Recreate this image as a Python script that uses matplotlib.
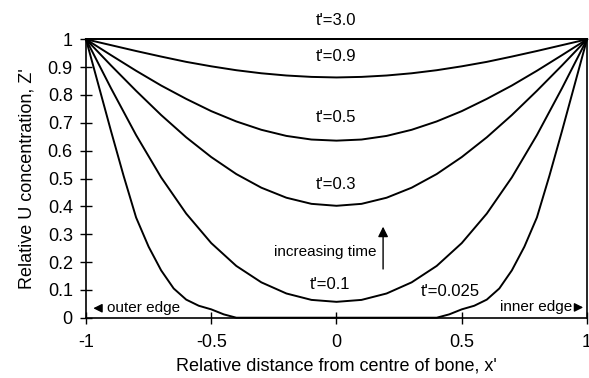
import matplotlib
matplotlib.use('Agg')
import matplotlib.pyplot as plt
import numpy as np

plt.rcParams['font.family'] = ['Liberation Sans', 'DejaVu Sans']

# sampling positions across the bone section
x_pos = np.linspace(-1.0, 1.0, 21)
x_fine = np.linspace(-1.0, 1.0, 41)

# relative concentration profiles for each dimensionless time
z_t30 = [1.0] * 21
z_t09 = [1.0, 0.979, 0.958, 0.938, 0.919, 0.903, 0.889, 0.878, 0.870, 0.865, 0.863,
         0.865, 0.870, 0.878, 0.889, 0.903, 0.919, 0.938, 0.958, 0.979, 1.0]
z_t05 = [1.0, 0.943, 0.887, 0.834, 0.786, 0.742, 0.705, 0.675, 0.653, 0.640, 0.636,
         0.640, 0.653, 0.675, 0.705, 0.742, 0.786, 0.834, 0.887, 0.943, 1.0]
z_t03 = [1.0, 0.906, 0.815, 0.728, 0.648, 0.577, 0.516, 0.467, 0.431, 0.409, 0.402,
         0.409, 0.431, 0.467, 0.516, 0.577, 0.648, 0.728, 0.815, 0.906, 1.0]
z_t01 = [1.0, 0.824, 0.656, 0.504, 0.374, 0.268, 0.186, 0.127, 0.087, 0.064, 0.057,
         0.064, 0.087, 0.127, 0.186, 0.268, 0.374, 0.504, 0.656, 0.824, 1.0]
z_t0025 = [1.0, 0.835, 0.67, 0.51, 0.36, 0.255, 0.17, 0.105, 0.065, 0.043, 0.030, 0.012, 0.0,
           0.0, 0.0, 0.0, 0.0, 0.0, 0.0, 0.0, 0.0, 0.0, 0.0, 0.0, 0.0, 0.0, 0.0, 0.0,
           0.0, 0.012, 0.030, 0.043, 0.065, 0.105, 0.17, 0.255, 0.36, 0.51, 0.67, 0.835, 1.0]

x_ticks = [-1, -0.5, 0, 0.5, 1]
x_tick_labels = ['-1', '-0.5', '0', '0.5', '1']
y_ticks = [0, 0.1, 0.2, 0.3, 0.4, 0.5, 0.6, 0.7, 0.8, 0.9, 1]
y_tick_labels = ['0', '0.1', '0.2', '0.3', '0.4', '0.5', '0.6', '0.7', '0.8', '0.9', '1']

fig = plt.figure(figsize=(5.89, 3.78), dpi=100)
ax = fig.add_axes([0.146, 0.1595, 0.8506, 0.7365])

for z in [z_t30, z_t09, z_t05, z_t03, z_t01]:
    ax.plot(x_pos, z, color='black', lw=1.4, clip_on=False)
ax.plot(x_fine, z_t0025, color='black', lw=1.4, clip_on=False)

ax.set_xlim(-1, 1)
ax.set_ylim(0, 1)
ax.set_xticks(x_ticks)
ax.set_xticklabels(x_tick_labels)
ax.set_yticks(y_ticks)
ax.set_yticklabels(y_tick_labels)
ax.tick_params(direction='inout', length=9, width=1, labelsize=13, color='black')
ax.tick_params(axis='x', pad=7)
ax.tick_params(axis='y', pad=5)
for s in ax.spines.values():
    s.set_linewidth(1.2)

ax.set_xlabel("Relative distance from centre of bone, x'", fontsize=13, labelpad=5)
ax.set_ylabel("Relative U concentration, Z'", fontsize=13, labelpad=9)

# curve labels
lab = dict(fontsize=12, ha='center', va='center')
ax.text(0, 1.069, "t'=3.0", clip_on=False, **lab)
ax.text(0, 0.94, "t'=0.9", **lab)
ax.text(0, 0.72, "t'=0.5", **lab)
ax.text(0, 0.48, "t'=0.3", **lab)
ax.text(-0.027, 0.12, "t'=0.1", **lab)
ax.text(0.456, 0.093, "t'=0.025", **lab)

ax.text(0.16, 0.237, 'increasing time', fontsize=11, ha='right', va='center')
ax.annotate('', xy=(0.186, 0.337), xytext=(0.186, 0.165),
            arrowprops=dict(arrowstyle='-|>', color='black', lw=1, mutation_scale=15))

# edge markers
ax.annotate('', xy=(-0.982, 0.034), xytext=(-0.93, 0.034),
            arrowprops=dict(arrowstyle='-|>', color='black', lw=1, mutation_scale=13))
ax.text(-0.918, 0.034, 'outer edge', fontsize=11, ha='left', va='center')
ax.annotate('', xy=(0.996, 0.037), xytext=(0.942, 0.037),
            arrowprops=dict(arrowstyle='-|>', color='black', lw=1, mutation_scale=13))
ax.text(0.94, 0.037, 'inner edge', fontsize=11, ha='right', va='center')

fig.savefig('out.png', dpi=100)
